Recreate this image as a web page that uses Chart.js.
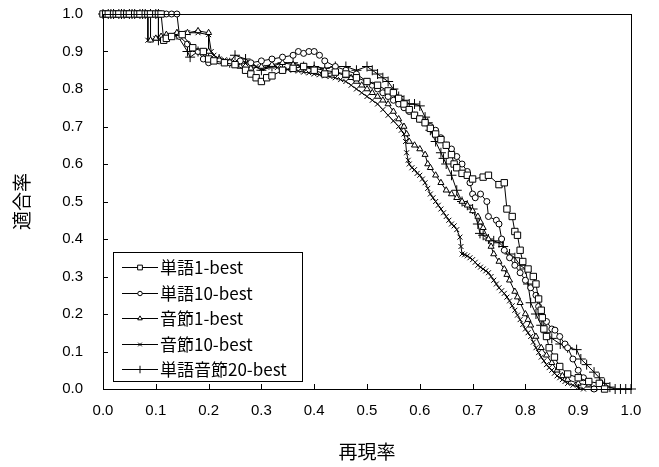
<!DOCTYPE html>
<html>
<head>
<meta charset="utf-8">
<script src="https://cdn.jsdelivr.net/npm/chart.js@4.4.0/dist/chart.umd.min.js"></script>
<style>
html, body { margin: 0; padding: 0; background: #fff; }
</style>
</head>
<body>
<canvas id="chart" width="659" height="467"></canvas>
<script>
// recall / precision pairs
const labels = ["単語1-best", "単語10-best", "音節1-best", "音節10-best", "単語音節20-best"];
const ticks = [0, 0.1, 0.2, 0.3, 0.4, 0.5, 0.6, 0.7, 0.8, 0.9, 1.0];

const word1 = [[0,1],[0.005,1],[0.01,1],[0.02,1],[0.025,1],[0.03,1],[0.04,1],[0.045,1],[0.05,1],[0.06,1],[0.065,1],[0.07,1],
	[0.08,1],[0.085,1],[0.09,1],[0.1,1],[0.105,1],[0.11,1],
	[0.115,0.93],[0.12,0.935],[0.13,0.94],[0.15,0.945],[0.17,0.91],[0.19,0.9],[0.2,0.88],[0.21,0.875],[0.23,0.87],[0.25,0.865],
	[0.27,0.85],[0.28,0.84],[0.29,0.83],[0.3,0.82],[0.31,0.83],[0.32,0.835],[0.34,0.85],[0.36,0.855],[0.38,0.86],[0.4,0.85],[0.42,0.84],[0.44,0.845],
	[0.46,0.84],[0.48,0.83],[0.5,0.82],[0.52,0.81],[0.54,0.795],[0.55,0.79],[0.56,0.775],[0.57,0.76],[0.58,0.745],[0.59,0.73],
	[0.6,0.72],[0.61,0.71],[0.62,0.695],[0.63,0.68],[0.64,0.665],[0.65,0.65],[0.66,0.625],[0.665,0.6],[0.67,0.59],[0.68,0.575],
	[0.69,0.57],[0.7,0.56],[0.72,0.565],[0.73,0.57],[0.75,0.545],[0.76,0.55],[0.765,0.48],[0.775,0.46],[0.78,0.42],[0.785,0.41],
	[0.79,0.37],[0.795,0.34],[0.805,0.32],[0.815,0.3],[0.82,0.28],[0.825,0.24],[0.83,0.21],[0.832,0.19],[0.835,0.16],[0.84,0.14],
	[0.845,0.11],[0.855,0.085],[0.865,0.06],[0.88,0.04],[0.9,0.03],[0.92,0.02],[0.94,0.015],[0.95,0]];

const word10 = [[0.12,1],[0.13,1],[0.14,1],[0.145,0.94],[0.16,0.92],
	[0.18,0.9],[0.19,0.88],[0.2,0.87],[0.22,0.875],[0.24,0.87],[0.26,0.875],[0.28,0.87],[0.3,0.875],[0.32,0.88],[0.34,0.885],
	[0.36,0.89],[0.37,0.9],[0.38,0.895],[0.39,0.9],[0.4,0.9],[0.41,0.89],[0.42,0.875],[0.44,0.86],[0.46,0.85],[0.48,0.84],
	[0.5,0.82],[0.51,0.81],[0.52,0.8],[0.53,0.79],[0.54,0.78],[0.55,0.77],[0.56,0.76],[0.57,0.75],[0.58,0.74],[0.59,0.73],
	[0.6,0.72],[0.61,0.71],[0.62,0.7],[0.63,0.69],[0.64,0.67],[0.65,0.65],
	[0.66,0.64],[0.67,0.62],[0.68,0.6],[0.69,0.58],[0.695,0.55],[0.7,0.52],[0.705,0.51],[0.715,0.52],[0.727,0.5],[0.73,0.46],
	[0.745,0.45],[0.75,0.44],[0.755,0.4],[0.76,0.37],[0.77,0.35],[0.78,0.33],[0.79,0.31],[0.8,0.29],[0.81,0.27],[0.82,0.25],
	[0.825,0.22],[0.83,0.2],[0.84,0.18],[0.85,0.16],[0.856,0.157],[0.865,0.14],[0.875,0.12],[0.88,0.11],[0.89,0.08],[0.9,0.05],
	[0.91,0.03],[0.92,0.015],[0.93,0]];

const syl1 = [[0,1],[0.02,1],[0.04,1],[0.06,1],[0.08,1],[0.09,1],[0.09,0.93],[0.1,0.935],[0.11,0.94],[0.12,0.945],[0.14,0.95],
	[0.16,0.95],[0.18,0.955],[0.2,0.95],[0.2,0.9],[0.22,0.88],[0.24,0.87],[0.26,0.86],[0.28,0.855],[0.3,0.86],[0.32,0.865],
	[0.34,0.87],[0.36,0.865],[0.38,0.86],[0.4,0.855],[0.42,0.85],[0.44,0.845],[0.46,0.835],[0.47,0.83],[0.48,0.82],[0.49,0.81],[0.5,0.8],[0.51,0.79],[0.52,0.78],
	[0.53,0.77],[0.54,0.76],[0.55,0.74],[0.56,0.72],[0.57,0.7],[0.575,0.68],[0.58,0.66],[0.59,0.65],[0.6,0.64],[0.61,0.625],[0.615,0.6],[0.62,0.59],[0.63,0.57],[0.64,0.55],
	[0.65,0.53],[0.66,0.52],[0.67,0.51],[0.68,0.5],[0.69,0.49],[0.7,0.475],[0.71,0.46],[0.715,0.445],[0.72,0.43],[0.73,0.4],[0.735,0.38],[0.74,0.36],
	[0.75,0.34],[0.76,0.32],[0.765,0.305],[0.77,0.29],[0.78,0.26],[0.785,0.245],[0.79,0.23],[0.8,0.2],[0.805,0.185],[0.81,0.17],[0.82,0.14],[0.83,0.11],[0.84,0.09],
	[0.85,0.07],[0.86,0.05],[0.87,0.035],[0.88,0.025],[0.9,0.015],[0.92,0.01],[0.93,0]];

const syl10 = [[0,1],[0.02,1],[0.04,1],[0.06,1],[0.08,1],[0.085,1],[0.085,0.93],[0.1,0.935],[0.12,0.94],[0.14,0.945],[0.16,0.95],
	[0.18,0.95],[0.2,0.945],[0.205,0.9],[0.21,0.89],[0.22,0.88],[0.23,0.878],[0.24,0.875],[0.25,0.872],[0.26,0.87],[0.27,0.868],[0.28,0.865],
	[0.29,0.86],[0.3,0.855],[0.31,0.858],[0.32,0.86],[0.33,0.857],[0.34,0.855],[0.35,0.852],[0.36,0.85],[0.37,0.848],[0.38,0.845],[0.39,0.843],
	[0.4,0.84],[0.41,0.838],[0.42,0.835],[0.43,0.833],[0.44,0.83],[0.45,0.825],[0.46,0.82],[0.47,0.81],[0.48,0.8],[0.49,0.79],[0.5,0.78],
	[0.51,0.77],[0.52,0.76],[0.53,0.745],[0.54,0.73],[0.55,0.715],[0.56,0.7],[0.565,0.69],[0.57,0.68],[0.573,0.66],[0.575,0.63],
	[0.578,0.61],[0.58,0.6],[0.585,0.59],[0.59,0.585],[0.595,0.575],[0.6,0.57],[0.605,0.56],[0.61,0.55],[0.615,0.535],[0.62,0.52],
	[0.625,0.51],[0.63,0.5],[0.635,0.49],[0.64,0.48],[0.645,0.47],[0.65,0.46],[0.655,0.45],[0.66,0.44],[0.665,0.435],[0.67,0.425],
	[0.676,0.405],[0.678,0.38],[0.68,0.36],[0.685,0.358],[0.69,0.355],[0.695,0.35],[0.7,0.345],[0.705,0.338],[0.71,0.33],[0.715,0.325],
	[0.72,0.32],[0.725,0.315],[0.73,0.31],[0.735,0.3],[0.74,0.29],[0.745,0.28],[0.75,0.27],[0.755,0.262],[0.76,0.255],[0.765,0.245],
	[0.77,0.235],[0.775,0.222],[0.78,0.21],[0.785,0.197],[0.79,0.185],[0.795,0.172],[0.8,0.16],[0.805,0.15],[0.81,0.14],[0.815,0.125],
	[0.82,0.11],[0.825,0.097],[0.83,0.085],[0.835,0.075],[0.84,0.065],[0.845,0.057],[0.85,0.05],[0.855,0.042],[0.86,0.035],[0.865,0.03],
	[0.87,0.025],[0.875,0.02],[0.88,0.015],[0.89,0.01],[0.9,0.005],[0.91,0]];

const mixed20 = [[0,1],[0.01,1],[0.015,1],[0.02,1],[0.03,1],[0.035,1],[0.04,1],[0.05,1],[0.055,1],[0.06,1],[0.07,1],[0.075,1],[0.08,1],[0.09,1],[0.1,1],[0.105,1],
	[0.105,0.93],[0.12,0.94],[0.14,0.945],[0.16,0.9],[0.165,0.885],[0.18,0.9],[0.2,0.88],[0.22,0.88],[0.24,0.87],[0.25,0.89],
	[0.27,0.88],[0.3,0.85],[0.32,0.86],[0.34,0.87],[0.36,0.87],[0.38,0.86],[0.4,0.86],[0.42,0.855],[0.44,0.86],[0.46,0.86],
	[0.48,0.85],[0.5,0.86],[0.51,0.85],[0.52,0.84],[0.53,0.83],[0.54,0.82],[0.55,0.8],[0.56,0.78],[0.57,0.77],[0.58,0.76],
	[0.59,0.76],[0.6,0.755],[0.61,0.725],[0.615,0.71],[0.62,0.69],[0.63,0.66],[0.64,0.63],[0.645,0.615],[0.65,0.6],[0.66,0.57],[0.67,0.53],[0.68,0.5],
	[0.69,0.49],[0.7,0.48],[0.71,0.44],[0.714,0.415],[0.72,0.41],[0.73,0.4],[0.74,0.395],[0.75,0.39],[0.758,0.38],[0.77,0.36],
	[0.78,0.35],[0.79,0.33],[0.8,0.32],[0.805,0.28],[0.81,0.23],[0.82,0.2],[0.83,0.17],[0.84,0.15],[0.85,0.135],[0.866,0.12],
	[0.88,0.11],[0.897,0.105],[0.905,0.08],[0.916,0.065],[0.93,0.045],[0.94,0.03],[0.95,0.015],[0.96,0.005],[0.97,0],[0.98,0],
	[0.99,0],[1,0]];

const series = [word1, word10, syl1, syl10, mixed20];
const styles = ["rect", "circle", "triangle", "crossRot", "cross"];
const radii = [4.5, 3, 3.5, 3.5, 5];

function toPoints(arr) {
	return arr.map(function (d) { return { x: d[0], y: d[1] }; });
}

// frame + inward tick marks
const frame = {
	id: "frame",
	afterDatasetsDraw(chart) {
		const ctx = chart.ctx,
			a = chart.chartArea,
			xs = chart.scales.x,
			ys = chart.scales.y;
		ctx.save();
		ctx.strokeStyle = "#000";
		ctx.lineWidth = 1;
		ctx.strokeRect(Math.round(a.left) + 0.5, Math.round(a.top) + 0.5, Math.round(a.right - a.left), Math.round(a.bottom - a.top));
		ctx.beginPath();
		ticks.forEach(function (v) {
			const px = Math.round(xs.getPixelForValue(v)) + 0.5;
			ctx.moveTo(px, a.bottom);
			ctx.lineTo(px, a.bottom - 5);
			const py = Math.round(ys.getPixelForValue(v)) + 0.5;
			ctx.moveTo(a.left, py);
			ctx.lineTo(a.left + 5, py);
		});
		ctx.stroke();
		ctx.restore();
	}
};

// legend with line + marker like the original
const legendBox = {
	id: "legendBox",
	afterDraw(chart) {
		const ctx = chart.ctx;
		ctx.save();
		ctx.fillStyle = "#fff";
		ctx.strokeStyle = "#000";
		ctx.lineWidth = 1;
		ctx.fillRect(113.5, 252.5, 189, 129);
		ctx.strokeRect(113.5, 252.5, 189, 129);
		ctx.font = '17px "Noto Sans CJK JP"';
		ctx.textBaseline = "middle";
		chart.data.datasets.forEach(function (ds, i) {
			const yy = Math.round(267 + i * 25.5) + 0.5;
			ctx.strokeStyle = "#000";
			ctx.beginPath();
			ctx.moveTo(122, yy);
			ctx.lineTo(158, yy);
			ctx.stroke();
			ctx.fillStyle = "#fff";
			Chart.helpers.drawPoint(ctx, { pointStyle: ds.pointStyle, radius: ds.pointRadius * 0.75, borderWidth: 1, rotation: 0 }, 140, yy);
			ctx.fillStyle = "#000";
			ctx.fillText(ds.label, 160, yy);
		});
		ctx.restore();
	}
};

new Chart(document.getElementById("chart").getContext("2d"), {
	type: "line",
	data: {
		datasets: series.map(function (s, i) {
			return {
				label: labels[i],
				data: toPoints(s),
				borderColor: "#000",
				borderWidth: 1,
				backgroundColor: "#fff",
				pointStyle: styles[i],
				pointRadius: radii[i],
				pointBorderColor: "#000",
				pointBackgroundColor: "#fff",
				pointBorderWidth: 1,
				tension: 0,
				clip: false
			};
		})
	},
	options: {
		responsive: false,
		animation: false,
		devicePixelRatio: 1,
		layout: { autoPadding: false, padding: { top: 14, right: 28, left: 0, bottom: 0 } },
		plugins: { legend: { display: false }, tooltip: { enabled: false } },
		scales: {
			x: {
				type: "linear",
				min: 0,
				max: 1,
				afterFit: function (scale) {
					scale.height = 78;
					scale.paddingLeft = 0;
					scale.paddingRight = 0;
				},
				afterBuildTicks: function (scale) { scale.ticks = ticks.map(function (v) { return { value: v }; }); },
				grid: { display: false },
				border: { display: false },
				ticks: {
					color: "#000",
					padding: 5,
					maxRotation: 0,
					font: { family: "Liberation Sans", size: 15 },
					callback: function (v) { return v.toFixed(1); }
				},
				title: {
					display: true,
					text: "再現率",
					color: "#000",
					padding: { top: 0, bottom: 4 },
					font: { family: "Noto Sans CJK JP", size: 19 }
				}
			},
			y: {
				type: "linear",
				min: 0,
				max: 1,
				afterFit: function (scale) {
					scale.width = 103;
					scale.paddingTop = 0;
					scale.paddingBottom = 0;
				},
				afterBuildTicks: function (scale) { scale.ticks = ticks.map(function (v) { return { value: v }; }); },
				grid: { display: false },
				border: { display: false },
				ticks: {
					color: "#000",
					padding: 12,
					font: { family: "Liberation Sans", size: 15 },
					callback: function (v) { return v.toFixed(1); }
				},
				title: {
					display: true,
					text: "適合率",
					color: "#000",
					padding: { top: 10, bottom: 0 },
					font: { family: "Noto Sans CJK JP", size: 19 }
				}
			}
		}
	},
	plugins: [frame, legendBox]
});
</script>
</body>
</html>
